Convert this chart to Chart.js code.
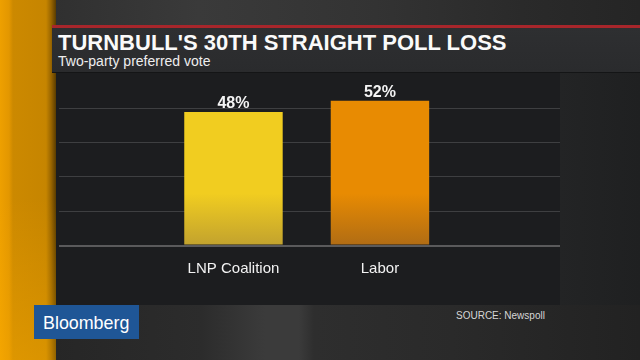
<!DOCTYPE html>
<html>
<head>
<meta charset="utf-8">
<script src="https://cdn.jsdelivr.net/npm/chart.js@4.4.1/dist/chart.umd.min.js"></script>
<style>
    html, body { margin: 0; padding: 0; }
    body {
        width: 640px; height: 360px; position: relative; overflow: hidden;
        background: #1e1f21;
        font-family: "Liberation Sans", Arial, sans-serif;
    }
    .abs { position: absolute; }
    #stripe {
        left: 0; top: 0; width: 56px; height: 360px; z-index: 1;
        background:
            linear-gradient(to bottom, rgba(255, 170, 0, 0) 55%, rgba(255, 175, 0, 0.35) 100%),
            linear-gradient(to right, #eea000 0px, #e39700 9px, #cc8900 13px, #c68500 46px, #9a6600 51px, #5a3c00 56px);
    }
    #topStrip {
        left: 52px; top: 0; width: 588px; height: 26px;
        background: linear-gradient(to right, #303030 0%, #3a3a3a 25%, #333 55%, #2a2a2a 80%, #252525 100%);
    }
    #redLine { left: 52px; top: 25px; width: 588px; height: 3px; background: #a8262b; z-index: 2; }
    #titleBox {
        left: 52px; top: 28px; width: 588px; height: 44px; z-index: 2;
        background: linear-gradient(to bottom, #2e2f31, #2a2b2d);
        border-bottom: 1px solid #141516;
    }
    #panel { left: 56px; top: 73px; width: 504px; height: 232px; background: #1c1d1f; }
    #rightSide { left: 560px; top: 73px; width: 80px; height: 232px; background: linear-gradient(to right, #232425, #1f2021); }
    #bottomStrip {
        left: 52px; top: 305px; width: 588px; height: 55px;
        background: linear-gradient(to right, #262626 0px, #2c2c2c 150px, #3b3b3b 213px, #3b3b3b 247px, #2e2e2e 262px, #2a2a2a 400px, #222 100%);
    }
    #title {
        left: 58px; top: 32px; z-index: 3; white-space: nowrap;
        font-size: 22px; line-height: 22px; font-weight: bold; color: #fafafa;
    }
    #subtitle {
        left: 58px; top: 54px; z-index: 3; white-space: nowrap;
        font-size: 14px; line-height: 14px; color: #eeeeee;
    }
    #logo { left: 34px; top: 305px; width: 105px; height: 34px; background: #1f5696; z-index: 3; }
    #logoText {
        left: 43px; top: 313px; z-index: 4; white-space: nowrap;
        font-size: 19px; line-height: 19px; color: #ffffff;
        transform: scaleX(0.94); transform-origin: left;
    }
    #source {
        left: 456px; top: 310.5px; white-space: nowrap;
        font-size: 10px; line-height: 10px; color: #d6d6d6;
    }
    #chartBox { left: 52px; top: 72px; width: 508px; height: 233px; z-index: 2; }
</style>
</head>
<body>
<div id="stripe" class="abs"></div>
<div id="topStrip" class="abs"></div>
<div id="redLine" class="abs"></div>
<div id="titleBox" class="abs"></div>
<div id="panel" class="abs"></div>
<div id="rightSide" class="abs"></div>
<div id="bottomStrip" class="abs"></div>
<div id="title" class="abs">TURNBULL'S 30TH STRAIGHT POLL LOSS</div>
<div id="subtitle" class="abs">Two-party preferred vote</div>
<div id="logo" class="abs"></div>
<div id="logoText" class="abs">Bloomberg</div>
<div id="source" class="abs">SOURCE: Newspoll</div>
<div id="chartBox" class="abs"><canvas id="pollChart"></canvas></div>

<script>
const categories = ['LNP Coalition', 'Labor'];
const values = [48, 52];
const gridValues = [0, 12.35, 24.7, 37.05, 49.4];

const barColors = ['#f1cd20', '#e88b02'];
const barShades = ['#c2a22e', '#b06c14'];

// Gradient that darkens toward the bottom of each bar
function barFill(context) {
    const i = context.dataIndex;
    const area = context.chart.chartArea;
    if (!area) return barColors[i];
    const g = context.chart.ctx.createLinearGradient(0, area.top, 0, area.bottom);
    g.addColorStop(0, barColors[i]);
    g.addColorStop(0.66, barColors[i]);
    g.addColorStop(1, barShades[i]);
    return g;
}

// Value labels above the bars
const valueLabels = {
    id: 'valueLabels',
    afterDatasetsDraw(chart) {
        const ctx = chart.ctx;
        const meta = chart.getDatasetMeta(0);
        ctx.save();
        ctx.font = 'bold 16px "Liberation Sans", Arial, sans-serif';
        ctx.fillStyle = '#f4f4f4';
        ctx.textAlign = 'center';
        ctx.textBaseline = 'alphabetic';
        meta.data.forEach((bar, i) => {
            ctx.fillText(values[i] + '%', bar.x, bar.y - 3.5);
        });
        ctx.restore();
    }
};

const pollChart = new Chart(document.getElementById('pollChart'), {
    type: 'bar',
    data: {
        datasets: [{
            data: categories.map((c, i) => ({ x: i, y: values[i] })),
            backgroundColor: barFill,
            borderWidth: 0,
            barPercentage: 0.672,
            categoryPercentage: 1
        }]
    },
    options: {
        responsive: true,
        maintainAspectRatio: false,
        animation: false,
        layout: {
            padding: { left: 7, right: 0, top: 20.5, bottom: 0 }
        },
        plugins: {
            legend: { display: false },
            tooltip: { enabled: false }
        },
        scales: {
            x: {
                type: 'linear',
                offset: false,
                min: -1.191,
                max: 2.229,
                grid: { display: false, drawTicks: false },
                border: { display: false },
                afterBuildTicks: scale => {
                    scale.ticks = categories.map((c, i) => ({ value: i }));
                },
                afterFit: scale => { scale.height = 59.5; },
                ticks: {
                    padding: 14,
                    color: '#f2f2f2',
                    maxRotation: 0,
                    autoSkip: false,
                    font: { size: 15, family: '"Liberation Sans", Arial, sans-serif' },
                    callback: v => categories[v] ?? ''
                }
            },
            y: {
                min: 0,
                max: 55,
                afterBuildTicks: scale => {
                    scale.ticks = gridValues.map(v => ({ value: v }));
                },
                afterFit: scale => { scale.width = 0; },
                ticks: { display: false },
                border: { display: false },
                grid: {
                    drawTicks: false,
                    color: ctx => ctx.tick && ctx.tick.value === 0 ? '#5a5a5b' : '#3e3f41',
                    lineWidth: ctx => ctx.tick && ctx.tick.value === 0 ? 2 : 1
                }
            }
        }
    },
    plugins: [valueLabels]
});
</script>
</body>
</html>
